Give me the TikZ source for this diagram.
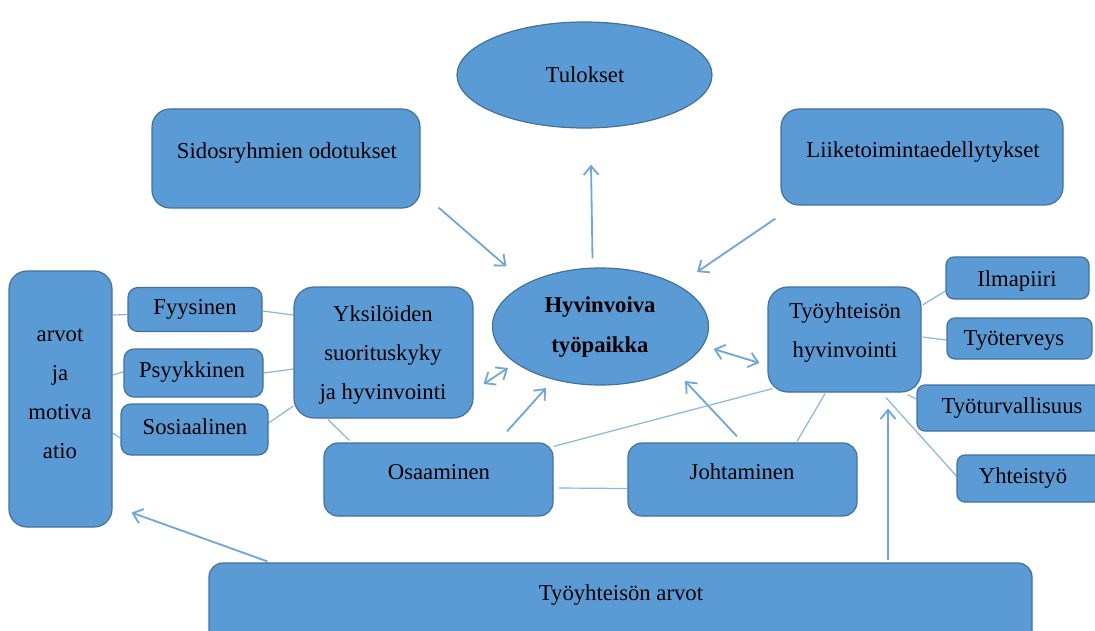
\documentclass[tikz,border=0pt]{standalone}
\usepackage{fontspec}
\setmainfont{Liberation Serif}
\usetikzlibrary{shapes.geometric,arrows.meta,calc}
\definecolor{boxfill}{HTML}{5B9BD5}
\definecolor{boxline}{HTML}{41719C}
\definecolor{conn}{HTML}{6FA6DA}
\definecolor{thin}{HTML}{86B6E2}
\pgfdeclarelayer{bg}
\pgfsetlayers{bg,main}
\tikzset{
  box/.style={draw=boxline, fill=boxfill, line width=1.2pt, rounded corners=#1,
    inner sep=0pt, anchor=center},
  box/.default=12pt,
  oval/.style={ellipse, draw=boxline, fill=boxfill, line width=1.2pt, inner sep=0pt},
  txt/.style={font=\fontsize{22.7}{39}\selectfont, align=center, inner sep=0pt, text=black},
  arr/.style={draw=conn, line width=1.8pt, -{Straight Barb[length=9pt,width=15pt,line width=1.8pt]}},
  darr/.style={draw=conn, line width=1.8pt, {Straight Barb[length=9pt,width=15pt,line width=1.8pt]}-{Straight Barb[length=9pt,width=15pt,line width=1.8pt]}},
  link/.style={draw=thin, line width=1.2pt}
}
\begin{document}
\begin{tikzpicture}[x=1pt,y=-1pt]
\useasboundingbox (0,0) rectangle (1095,631);
\clip (0,0) rectangle (1095,631);

% outcome and drivers
\node[oval, minimum width=255pt, minimum height=106pt] (tul) at (584.5,75) {};
\node[txt] at (585,75) {Tulokset};
\node[box=18pt, minimum width=268pt, minimum height=99pt] (sid) at (286,158.5) {};
\node[txt] at (287,153) {Sidosryhmien odotukset};
\node[box=18pt, minimum width=282pt, minimum height=96pt] (liik) at (922,157) {};
\node[txt] at (923,152) {Liiketoimintaedellytykset};

% central workplace
\node[oval, minimum width=216pt, minimum height=117pt] (hyv) at (600.5,326.5) {};
\node[txt, font=\fontsize{22.7}{40}\selectfont\bfseries] at (600,327) {Hyvinvoiva\\työpaikka};

% individual side
\node[box=18pt, minimum width=103pt, minimum height=256pt] (arv) at (60.5,399) {};
\node[txt] at (60,394) {arvot\\ja\\motiva\\atio};
\node[box=10pt, minimum width=134pt, minimum height=44pt] (fyy) at (195,309.5) {};
\node[txt] at (195,309) {Fyysinen};
\node[box=10pt, minimum width=139pt, minimum height=48pt] (psy) at (193.5,373) {};
\node[txt] at (192,372) {Psyykkinen};
\node[box=10pt, minimum width=147pt, minimum height=51pt] (sos) at (194.5,429.5) {};
\node[txt] at (195,427) {Sosiaalinen};
\node[box=20pt, minimum width=179pt, minimum height=131pt] (yks) at (383.5,352.5) {};
\node[txt] at (383,355) {Yksilöiden\\suorituskyky\\ja hyvinvointi};

% competence and leadership
\node[box=14pt, minimum width=229pt, minimum height=73pt] (osa) at (438.5,479.5) {};
\node[txt] at (439,472) {Osaaminen};
\node[box=14pt, minimum width=229pt, minimum height=73pt] (joh) at (742.5,479.5) {};
\node[txt] at (742,472) {Johtaminen};

% work community side
\node[box=20pt, minimum width=153pt, minimum height=105pt] (tyh) at (844.5,339.5) {};
\node[txt] at (845,333) {Työyhteisön\\hyvinvointi};
\node[box=8pt, minimum width=143pt, minimum height=42pt] (ilm) at (1017.5,278) {};
\node[txt] at (1017,281) {Ilmapiiri};
\node[box=8pt, minimum width=145pt, minimum height=41pt] (ter) at (1019.5,338.5) {};
\node[txt] at (1014,341) {Työterveys};
\node[box=8pt, minimum width=185pt, minimum height=46pt] (tur) at (1009.5,408) {};
\node[txt] at (1012,408) {Työturvallisuus};
\node[box=8pt, minimum width=145pt, minimum height=47pt] (yht) at (1029.5,478.5) {};
\node[txt] at (1023,478) {Yhteistyö};

% shared values
\node[box=14pt, minimum width=823pt, minimum height=87pt] (arvo) at (620.5,606.5) {};
\node[txt] at (621,595) {Työyhteisön arvot};

\begin{pgfonlayer}{bg}
% arrows
\draw[arr] ($(sid.south east)+(18,-1)$) -- ($(hyv.center)+(-94,-60)$);
\draw[arr] ($(hyv.north)+(-8,-9)$) -- ($(tul.south)+(6.5,36)$);
\draw[arr] ($(liik.south west)+(-5,13)$) -- ($(hyv.center)+(96.5,-54.5)$);
\draw[darr] ($(yks.east)+(10,31.5)$) -- ($(hyv.center)+(-92.5,41.5)$);
\draw[arr] ($(osa.north)+(68.5,-11)$) -- ($(hyv.center)+(-54.5,61.5)$);
\draw[arr] ($(joh.north)+(-5.5,-6)$) -- ($(hyv.center)+(84.5,54.5)$);
\draw[darr] ($(hyv.east)+(4.5,22.5)$) -- ($(tyh.west)+(-8,23.5)$);
\draw[arr] ($(arvo.north west)+(59,-1)$) -- ($(arv.south east)+(19,-15)$);
\draw[arr] ($(arvo.north)+(267.5,-2)$) -- ($(tyh.south)+(43.5,16)$);
% plain links
\draw[link] ($(arv.east)+(0,-84)$) -- ($(fyy.west)+(0,5)$);
\draw[link] ($(arv.east)+(0,-24)$) -- ($(psy.west)+(0,-1)$);
\draw[link] ($(arv.east)+(0,34)$) -- ($(sos.west)+(0,8.5)$);
\draw[link] ($(fyy.east)+(0,1.5)$) -- ($(yks.west)+(0,-37.5)$);
\draw[link] (psy.east) -- ($(yks.west)+(0,16.5)$);
\draw[link] ($(sos.east)+(0,-6.5)$) -- ($(yks.west)+(0,53.5)$);
\draw[link] ($(yks.south)+(-55.5,1)$) -- ($(osa.north west)+(26,-2)$);
\draw[link] ($(osa.north east)+(0,4)$) -- ($(tyh.south west)+(5,-4)$);
\draw[link] ($(osa.east)+(5,8.5)$) -- ($(joh.west)+(0,9)$);
\draw[link] ($(joh.north)+(54.5,-1)$) -- ($(tyh.south)+(-19.5,1)$);
\draw[link] ($(tyh.east)+(1,-34.5)$) -- ($(ilm.west)+(0,13)$);
\draw[link] ($(tyh.east)+(1,-2.5)$) -- ($(ter.west)+(0,1.5)$);
\draw[link] ($(tyh.south east)+(-14,2)$) -- ($(tur.west)+(0,-9)$);
\draw[link] ($(tyh.south)+(41.5,5)$) -- ($(yht.west)+(0,-2.5)$);
\end{pgfonlayer}
\end{tikzpicture}
\end{document}
